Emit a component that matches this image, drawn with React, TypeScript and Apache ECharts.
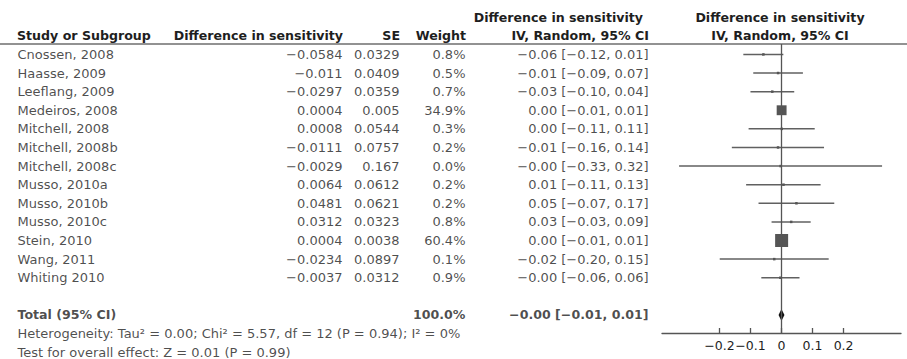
import React, { useEffect, useRef } from "react";
import * as echarts from "echarts";

const studies = [
  "Cnossen, 2008", "Haasse, 2009", "Leeflang, 2009", "Medeiros, 2008", "Mitchell, 2008",
  "Mitchell, 2008b", "Mitchell, 2008c", "Musso, 2010a", "Musso, 2010b", "Musso, 2010c",
  "Stein, 2010", "Wang, 2011", "Whiting 2010",
];
const diffs = [-0.0584, -0.011, -0.0297, 0.0004, 0.0008, -0.0111, -0.0029, 0.0064, 0.0481, 0.0312, 0.0004, -0.0234, -0.0037];
const ses = [0.0329, 0.0409, 0.0359, 0.005, 0.0544, 0.0757, 0.167, 0.0612, 0.0621, 0.0323, 0.0038, 0.0897, 0.0312];
const weights = [0.8, 0.5, 0.7, 34.9, 0.3, 0.2, 0.0, 0.2, 0.2, 0.8, 60.4, 0.1, 0.9];
const ciLow = [-0.123, -0.091, -0.100, -0.009, -0.106, -0.160, -0.330, -0.114, -0.074, -0.032, -0.007, -0.199, -0.065];
const ciHigh = [0.006, 0.069, 0.041, 0.010, 0.107, 0.137, 0.324, 0.126, 0.170, 0.094, 0.008, 0.152, 0.058];
const ciLabels = [
  "−0.06 [−0.12, 0.01]", "−0.01 [−0.09, 0.07]", "−0.03 [−0.10, 0.04]", "0.00 [−0.01, 0.01]",
  "0.00 [−0.11, 0.11]", "−0.01 [−0.16, 0.14]", "−0.00 [−0.33, 0.32]", "0.01 [−0.11, 0.13]",
  "0.05 [−0.07, 0.17]", "0.03 [−0.03, 0.09]", "0.00 [−0.01, 0.01]", "−0.02 [−0.20, 0.15]",
  "−0.00 [−0.06, 0.06]",
];
const totalName = "Total (95% CI)";
const totalWeightLabel = "100.0%";
const totalCiLabel = "−0.00 [−0.01, 0.01]";
const totalEst = -0.0001;
const totalLow = -0.0095;
const totalHigh = 0.0095;
const xTicks = [-0.2, -0.1, 0, 0.1, 0.2];
const footerLines = [
  "Heterogeneity: Tau² = 0.00; Chi² = 5.57, df = 12 (P = 0.94); I² = 0%",
  "Test for overall effect: Z = 0.01 (P = 0.99)",
];

const W = 907;
const H = 359;
const FONT = "DejaVu Sans";
const FS = 13;
const FSB = 12.6;
const TXT = "#1e1e1e";
const LINE = "#555555";
const gridTop = 44;
const axisY = 333;
const yMin = -0.56;
const yMax = 14.97;
const rowH = (axisY - gridTop) / (yMax - yMin);
const totalRow = studies.length + 1;

const colName = 17;
const colDiff = 343;
const colSE = 400;
const colWeight = 466;
const colCI = 649;

const fmt = (v: number) => String(v).replace("-", "−");

function textSeries(name: string, x: number, rows: { i: number; t: string }[], align: "left" | "right", bold = false) {
  return {
    type: "scatter",
    name,
    xAxisIndex: 1,
    yAxisIndex: 1,
    symbol: "rect",
    symbolSize: 1,
    silent: true,
    clip: false,
    itemStyle: { color: "transparent" },
    data: rows.map((r) => ({ value: [x, r.i], name: r.t })),
    label: {
      show: true,
      position: align === "left" ? "right" : "left",
      distance: 0,
      formatter: (p: any) => p.name,
      fontFamily: FONT,
      fontSize: bold ? FSB : FS,
      fontWeight: bold ? "bold" : "normal",
      color: TXT,
    },
  };
}

function headerText(text: string, x: number, y: number, align: string) {
  return {
    type: "text",
    x,
    y,
    silent: true,
    style: {
      text,
      fill: TXT,
      font: `bold ${FSB}px "${FONT}"`,
      textAlign: align,
      textVerticalAlign: "middle",
      align,
      verticalAlign: "middle",
    },
  };
}

export default function App() {
  const ref = useRef<HTMLDivElement>(null);
  useEffect(() => {
    if (!ref.current) return;
    const chart = echarts.init(ref.current, undefined, { renderer: "svg" });
    const idx = studies.map((_, i) => i);
    const tableYMax = yMin + (H - gridTop) / rowH;

    const option: any = {
      animation: false,
      grid: [
        { left: 662, right: W - 901, top: gridTop, bottom: H - axisY },
        { left: 0, right: 0, top: gridTop, bottom: 0 },
      ],
      xAxis: [
        {
          type: "value",
          gridIndex: 0,
          min: -0.385,
          max: 0.385,
          splitLine: { show: false },
          axisLine: { show: true, onZero: false, lineStyle: { color: LINE, width: 1.3 } },
          axisTick: { show: true, inside: true, length: 5, customValues: xTicks, lineStyle: { color: LINE, width: 1.3 } },
          axisLabel: {
            show: true,
            customValues: xTicks,
            hideOverlap: false,
            formatter: (v: number) => fmt(Number(v.toFixed(1))),
            fontFamily: FONT,
            fontSize: 12.5,
            color: TXT,
            margin: 6,
          },
        },
        { type: "value", gridIndex: 1, min: 0, max: W, show: false },
      ],
      yAxis: [
        { type: "value", gridIndex: 0, inverse: true, min: yMin, max: yMax, show: false },
        { type: "value", gridIndex: 1, inverse: true, min: yMin, max: tableYMax, show: false },
      ],
      graphic: [
        headerText("Study or Subgroup", colName, 35, "left"),
        headerText("Difference in sensitivity", colDiff, 35, "right"),
        headerText("SE", colSE, 35, "right"),
        headerText("Weight", colWeight, 35, "right"),
        headerText("Difference in sensitivity", colCI - 6, 17, "right"),
        headerText("IV, Random, 95% CI", colCI, 35, "right"),
        headerText("Difference in sensitivity", 780, 17, "center"),
        headerText("IV, Random, 95% CI", 780, 35, "center"),
        {
          type: "line",
          silent: true,
          shape: { x1: 0, y1: gridTop, x2: W, y2: gridTop },
          style: { stroke: "#6e6e6e", lineWidth: 1.5 },
        },
      ],
      series: [
        {
          type: "custom",
          xAxisIndex: 0,
          yAxisIndex: 0,
          silent: true,
          data: idx.map((i) => [diffs[i], i, ciLow[i], ciHigh[i], weights[i]]),
          encode: { x: [0, 2, 3], y: 1 },
          renderItem: (_params: any, api: any) => {
            const est = api.value(0);
            const row = api.value(1);
            const lo = api.coord([api.value(2), row]);
            const hi = api.coord([api.value(3), row]);
            const c = api.coord([est, row]);
            const s = Math.max(2.5, 13 * Math.sqrt(api.value(4) / 60.4));
            return {
              type: "group",
              children: [
                {
                  type: "line",
                  shape: { x1: lo[0], y1: lo[1], x2: hi[0], y2: hi[1] },
                  style: { stroke: "#606060", lineWidth: 1.5 },
                },
                {
                  type: "rect",
                  shape: { x: c[0] - s / 2, y: c[1] - s / 2, width: s, height: s },
                  style: { fill: "#555" },
                },
              ],
            };
          },
          markLine: {
            silent: true,
            symbol: "none",
            label: { show: false },
            lineStyle: { color: LINE, width: 1.3, type: "solid" },
            data: [{ xAxis: 0 }],
          },
          z: 3,
        },
        {
          type: "custom",
          xAxisIndex: 0,
          yAxisIndex: 0,
          silent: true,
          data: [[totalEst, totalRow, totalLow, totalHigh]],
          encode: { x: [0, 2, 3], y: 1 },
          renderItem: (_params: any, api: any) => {
            const row = api.value(1);
            const lo = api.coord([api.value(2), row]);
            const hi = api.coord([api.value(3), row]);
            const c = api.coord([api.value(0), row]);
            return {
              type: "polygon",
              shape: { points: [[lo[0], c[1]], [c[0], c[1] - 6], [hi[0], c[1]], [c[0], c[1] + 6]] },
              style: { fill: "#111" },
            };
          },
          z: 4,
        },
        textSeries("names", colName, idx.map((i) => ({ i, t: studies[i] })), "left"),
        textSeries("diffs", colDiff, idx.map((i) => ({ i, t: fmt(diffs[i]) })), "right"),
        textSeries("se", colSE, idx.map((i) => ({ i, t: fmt(ses[i]) })), "right"),
        textSeries("weights", colWeight, idx.map((i) => ({ i, t: weights[i].toFixed(1) + "%" })), "right"),
        textSeries("ci", colCI, idx.map((i) => ({ i, t: ciLabels[i] })), "right"),
        textSeries("totalName", colName, [{ i: totalRow, t: totalName }], "left", true),
        textSeries("totalWeight", colWeight, [{ i: totalRow, t: totalWeightLabel }], "right", true),
        textSeries("totalCi", colCI, [{ i: totalRow, t: totalCiLabel }], "right", true),
        textSeries("footer", colName, footerLines.map((t, k) => ({ i: totalRow + 1 + k, t })), "left"),
      ],
    };
    chart.setOption(option);
    return () => chart.dispose();
  }, []);
  return (
    <div
      ref={ref}
      style={{ position: "fixed", left: 0, top: 0, width: W, height: H, background: "#fff" }}
    />
  );
}
